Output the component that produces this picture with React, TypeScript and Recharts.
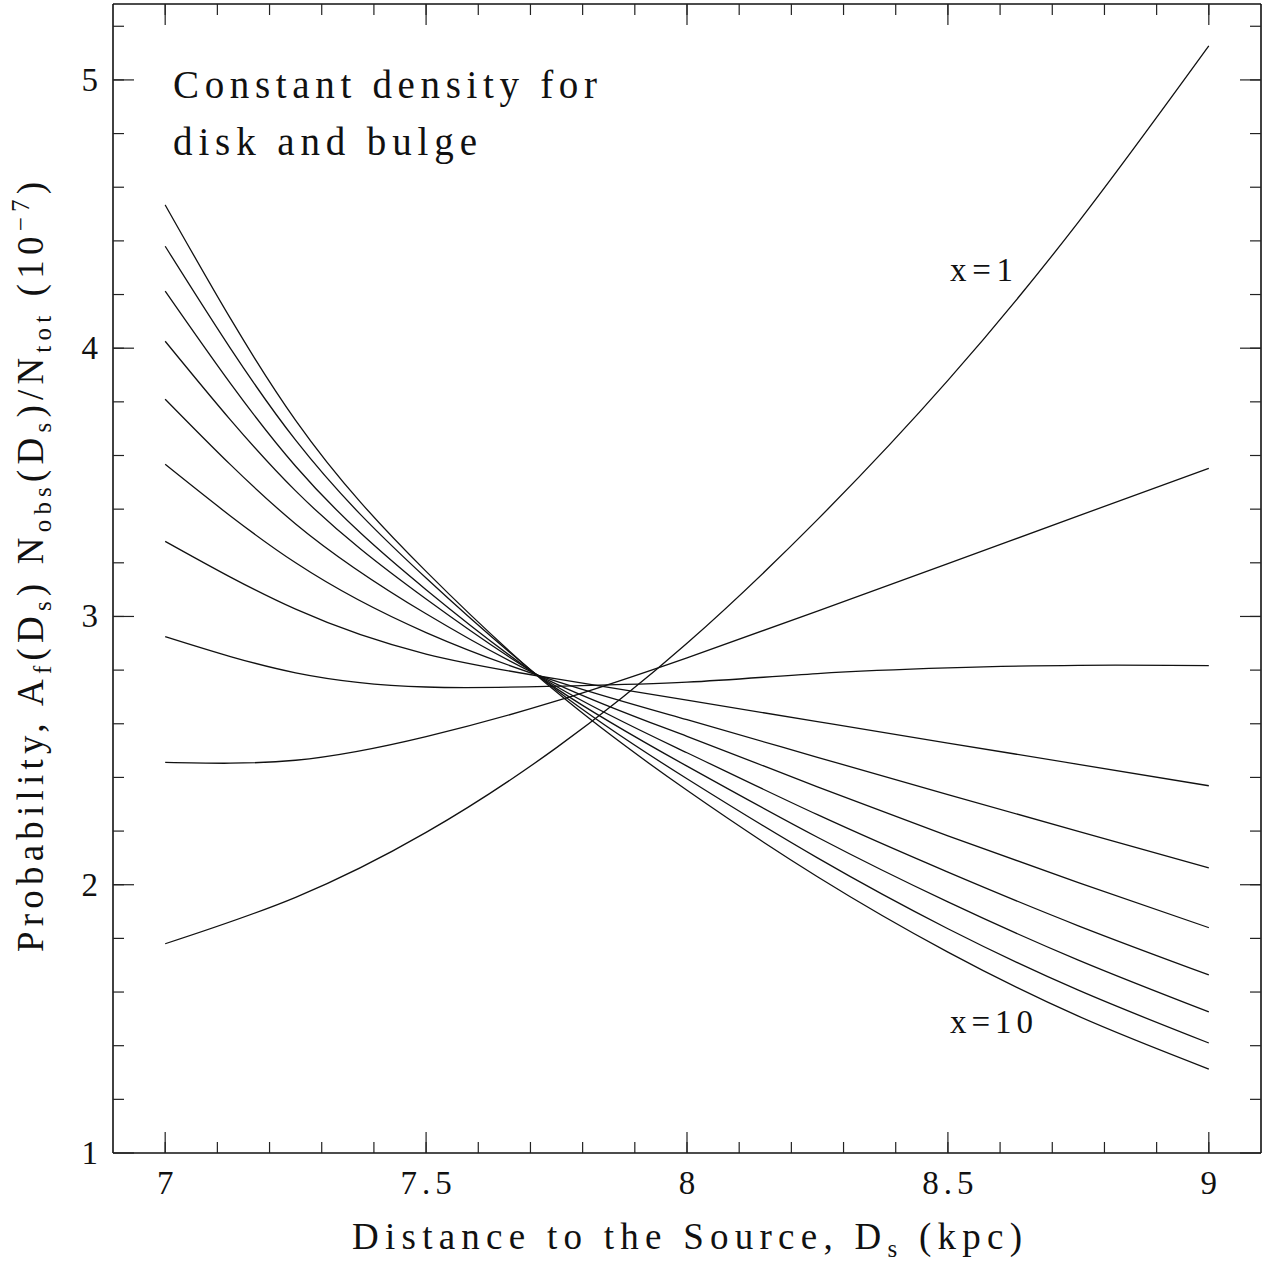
import { LineChart, Line, XAxis, YAxis, Customized } from "recharts";

// distance to the source (kpc)
const distance = [7, 7.25, 7.5, 7.75, 8, 8.25, 8.5, 8.75, 9];

// probability curves, x = 1 ... 10 (units of 1e-7)
const probX1 = [1.78, 1.953, 2.195, 2.511, 2.9, 3.361, 3.88, 4.47, 5.127];
const probX2 = [2.456, 2.464, 2.552, 2.685, 2.846, 3.02, 3.197, 3.375, 3.552];
const probX3 = [2.925, 2.79, 2.737, 2.74, 2.755, 2.787, 2.808, 2.818, 2.817];
const probX4 = [3.28, 3.027, 2.86, 2.767, 2.688, 2.608, 2.528, 2.449, 2.369];
const probX5 = [3.567, 3.2, 2.94, 2.758, 2.615, 2.475, 2.336, 2.199, 2.063];
const probX6 = [3.81, 3.345, 3.01, 2.748, 2.553, 2.365, 2.182, 2.008, 1.84];
const probX7 = [4.026, 3.468, 3.065, 2.739, 2.492, 2.261, 2.047, 1.847, 1.664];
const probX8 = [4.213, 3.56, 3.1, 2.731, 2.442, 2.177, 1.936, 1.719, 1.526];
const probX9 = [4.38, 3.657, 3.143, 2.725, 2.395, 2.1, 1.836, 1.607, 1.41];
const probX10 = [4.534, 3.731, 3.168, 2.718, 2.352, 2.03, 1.749, 1.51, 1.313];

const curves = [probX1, probX2, probX3, probX4, probX5, probX6, probX7, probX8, probX9, probX10];

// axis ticks
const xMajor = [7, 7.5, 8, 8.5, 9];
const xMinor = [7, 7.1, 7.2, 7.3, 7.4, 7.5, 7.6, 7.7, 7.8, 7.9, 8, 8.1, 8.2, 8.3, 8.4, 8.5, 8.6, 8.7, 8.8, 8.9, 9];
const yMajor = [1, 2, 3, 4, 5];
const yMinor = [1.2, 1.4, 1.6, 1.8, 2, 2.2, 2.4, 2.6, 2.8, 3, 3.2, 3.4, 3.6, 3.8, 4, 4.2, 4.4, 4.6, 4.8, 5, 5.2];

const data = distance.map((d, i) => {
  const row: any = { d };
  curves.forEach((c, k) => {
    row["x" + (k + 1)] = c[i];
  });
  return row;
});

const FONT = "'Liberation Serif', 'Times New Roman', serif";
const INK = "#111";
const frame = { stroke: "#111", strokeWidth: 1.6 };
const tickLn = { stroke: "#222", strokeWidth: 1.2 };
const THIN = 0.01; // axes need a non-zero size to be drawn
const X_DOMAIN = [6.9, 9.1];
const Y_DOMAIN = [1, 5.283];

const NoLabel = () => <g />;

const BottomTick = (props: any) => {
  const { x, y, payload } = props;
  return (
    <text x={x + 2.5} y={y + 62} textAnchor="middle" fontFamily={FONT} fontSize={33} letterSpacing={5} fill={INK}>
      {payload.value}
    </text>
  );
};

const LeftTick = (props: any) => {
  const { x, y, payload } = props;
  return (
    <text x={x - 36} y={y + 11} textAnchor="end" fontFamily={FONT} fontSize={33} fill={INK}>
      {payload.value}
    </text>
  );
};

const Annotations = () => (
  <g fontFamily={FONT} fill={INK}>
    <text x={173} y={98} fontSize={39} textLength={424} lengthAdjust="spacing">
      Constant density for
    </text>
    <text x={173} y={155} fontSize={39} textLength={304} lengthAdjust="spacing">
      disk and bulge
    </text>
    <text x={950} y={281} fontSize={33} textLength={63} lengthAdjust="spacing">
      x=1
    </text>
    <text x={950} y={1033} fontSize={33} textLength={83} lengthAdjust="spacing">
      x=10
    </text>
    <text x={687} y={1249} fontSize={37} textAnchor="middle" textLength={670} lengthAdjust="spacing">
      {"Distance to the Source, D"}
      <tspan dy={8} fontSize={25}>s</tspan>
      <tspan dy={-8}>{" (kpc)"}</tspan>
    </text>
    <text
      x={43}
      y={567}
      fontSize={37}
      textAnchor="middle"
      transform="rotate(-90, 43, 567)"
      textLength={770}
      lengthAdjust="spacing"
    >
      {"Probability, A"}
      <tspan dy={8} fontSize={25}>f</tspan>
      <tspan dy={-8}>{"(D"}</tspan>
      <tspan dy={8} fontSize={25}>s</tspan>
      <tspan dy={-8}>{") N"}</tspan>
      <tspan dy={8} fontSize={25}>obs</tspan>
      <tspan dy={-8}>{"(D"}</tspan>
      <tspan dy={8} fontSize={25}>s</tspan>
      <tspan dy={-8}>{")/N"}</tspan>
      <tspan dy={8} fontSize={25}>tot</tspan>
      <tspan dy={-8}>{" (10"}</tspan>
      <tspan dy={-14} fontSize={25}>{"−7"}</tspan>
      <tspan dy={14}>{")"}</tspan>
    </text>
  </g>
);

export default function App() {
  return (
    <div style={{ position: "absolute", left: 0, top: 0, width: 1271, height: 1262, background: "#fff" }}>
      <style>{`body{margin:0;overflow:hidden;background:#fff}`}</style>
      <LineChart width={1271} height={1262} data={data} margin={{ top: 4, right: 10, bottom: 109, left: 113 }}>
        <XAxis
          xAxisId="bottom"
          type="number"
          dataKey="d"
          domain={X_DOMAIN}
          allowDataOverflow
          ticks={xMajor}
          interval={0}
          mirror
          height={THIN}
          tickSize={21}
          tickMargin={0}
          axisLine={frame}
          tickLine={tickLn}
          tick={BottomTick}
        />
        <XAxis
          xAxisId="bottomMinor"
          type="number"
          dataKey="d"
          domain={X_DOMAIN}
          allowDataOverflow
          ticks={xMinor}
          interval={0}
          mirror
          height={THIN}
          tickSize={11}
          axisLine={false}
          tickLine={tickLn}
          tick={NoLabel}
        />
        <XAxis
          xAxisId="top"
          orientation="top"
          type="number"
          dataKey="d"
          domain={X_DOMAIN}
          allowDataOverflow
          ticks={xMajor}
          interval={0}
          mirror
          height={THIN}
          tickSize={21}
          axisLine={frame}
          tickLine={tickLn}
          tick={NoLabel}
        />
        <XAxis
          xAxisId="topMinor"
          orientation="top"
          type="number"
          dataKey="d"
          domain={X_DOMAIN}
          allowDataOverflow
          ticks={xMinor}
          interval={0}
          mirror
          height={THIN}
          tickSize={11}
          axisLine={false}
          tickLine={tickLn}
          tick={NoLabel}
        />
        <YAxis
          yAxisId="left"
          type="number"
          domain={Y_DOMAIN}
          allowDataOverflow
          ticks={yMajor}
          interval={0}
          mirror
          width={THIN}
          tickSize={21}
          tickMargin={0}
          axisLine={frame}
          tickLine={tickLn}
          tick={LeftTick}
        />
        <YAxis
          yAxisId="leftMinor"
          type="number"
          domain={Y_DOMAIN}
          allowDataOverflow
          ticks={yMinor}
          interval={0}
          mirror
          width={THIN}
          tickSize={11}
          axisLine={false}
          tickLine={tickLn}
          tick={NoLabel}
        />
        <YAxis
          yAxisId="right"
          orientation="right"
          type="number"
          domain={Y_DOMAIN}
          allowDataOverflow
          ticks={yMajor}
          interval={0}
          mirror
          width={THIN}
          tickSize={21}
          axisLine={frame}
          tickLine={tickLn}
          tick={NoLabel}
        />
        <YAxis
          yAxisId="rightMinor"
          orientation="right"
          type="number"
          domain={Y_DOMAIN}
          allowDataOverflow
          ticks={yMinor}
          interval={0}
          mirror
          width={THIN}
          tickSize={11}
          axisLine={false}
          tickLine={tickLn}
          tick={NoLabel}
        />
        {curves.map((_, k) => (
          <Line
            key={k}
            xAxisId="bottom"
            yAxisId="left"
            type="natural"
            dataKey={"x" + (k + 1)}
            stroke="#111"
            strokeWidth={1.3}
            dot={false}
            activeDot={false}
            isAnimationActive={false}
          />
        ))}
        <Customized component={Annotations} />
      </LineChart>
    </div>
  );
}
